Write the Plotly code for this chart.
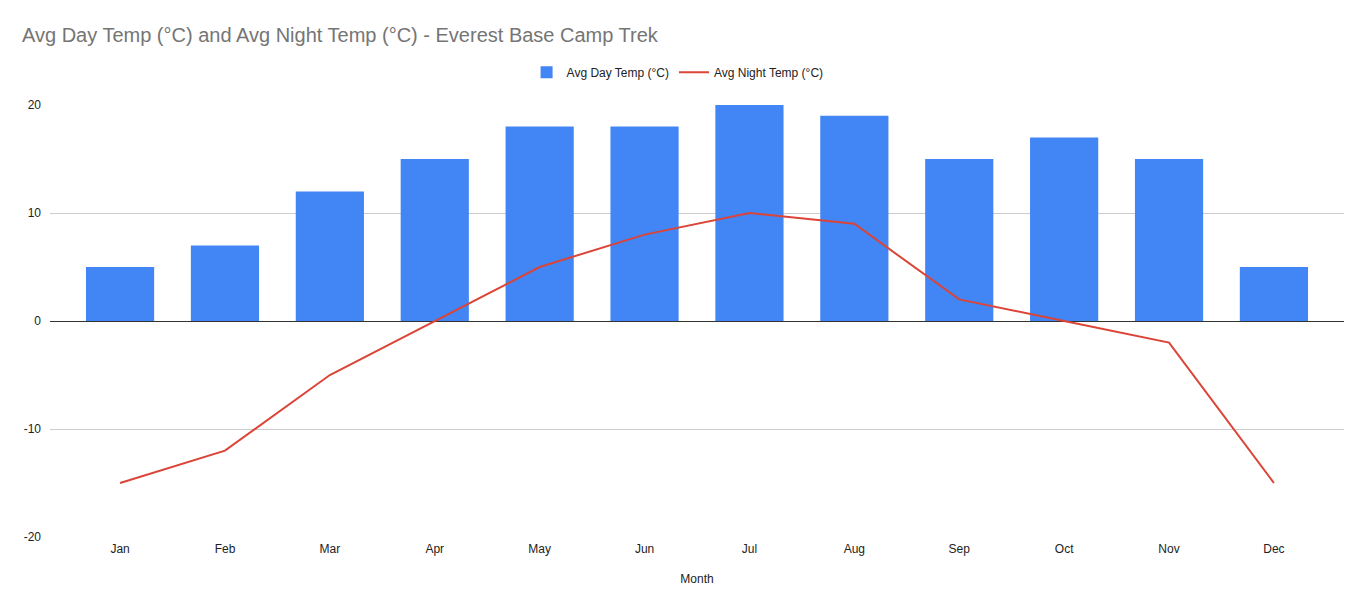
import plotly.graph_objects as go

months = ['Jan', 'Feb', 'Mar', 'Apr', 'May', 'Jun', 'Jul', 'Aug', 'Sep', 'Oct', 'Nov', 'Dec']
day_temp = [5, 7, 12, 15, 18, 18, 20, 19, 15, 17, 15, 5]
night_temp = [-15, -12, -5, 0, 5, 8, 10, 9, 2, 0, -2, -15]
y_ticks = [-20, -10, 0, 10, 20]
y_tick_labels = ['-20', '-10', '0', '10', '20']

fig = go.Figure()
fig.add_trace(go.Bar(x=months, y=day_temp, name='Avg Day Temp (°C)',
                     marker=dict(color='#4285F4', line=dict(width=0)), width=0.65))
fig.add_trace(go.Scatter(x=months, y=night_temp, name='Avg Night Temp (°C)', mode='lines',
                         line=dict(color='#DB4437', width=2)))

# page has an 8px body margin, so margins are shifted to compensate
fig.update_layout(
    width=1370, height=611,
    paper_bgcolor='white', plot_bgcolor='white',
    font=dict(family='Liberation Sans, Arial, sans-serif', size=12, color='#222222'),
    title=dict(text='Avg Day Temp (°C) and Avg Night Temp (°C) - Everest Base Camp Trek',
               x=0.0102, xanchor='left', y=0.956, yanchor='middle',
               font=dict(size=20, color='#757575')),
    legend=dict(orientation='h', x=0.485, xanchor='center', y=1.076, yanchor='middle',
                font=dict(size=12, color='#222222')),
    margin=dict(l=42, r=34, t=97, b=82),
    xaxis=dict(type='category', range=[-0.668, 11.668], showgrid=False, ticks='',
               title=dict(text='Month', font=dict(size=12), standoff=19),
               tickfont=dict(size=12), ticklabelstandoff=3),
    yaxis=dict(range=[-20, 20], tickvals=y_ticks, ticktext=y_tick_labels,
               gridcolor='#cccccc', gridwidth=1,
               zeroline=True, zerolinecolor='#333333', zerolinewidth=1,
               ticks='', ticklabelstandoff=8, tickfont=dict(size=12)),
    bargap=0.35,
)

fig.write_html('out.html')
